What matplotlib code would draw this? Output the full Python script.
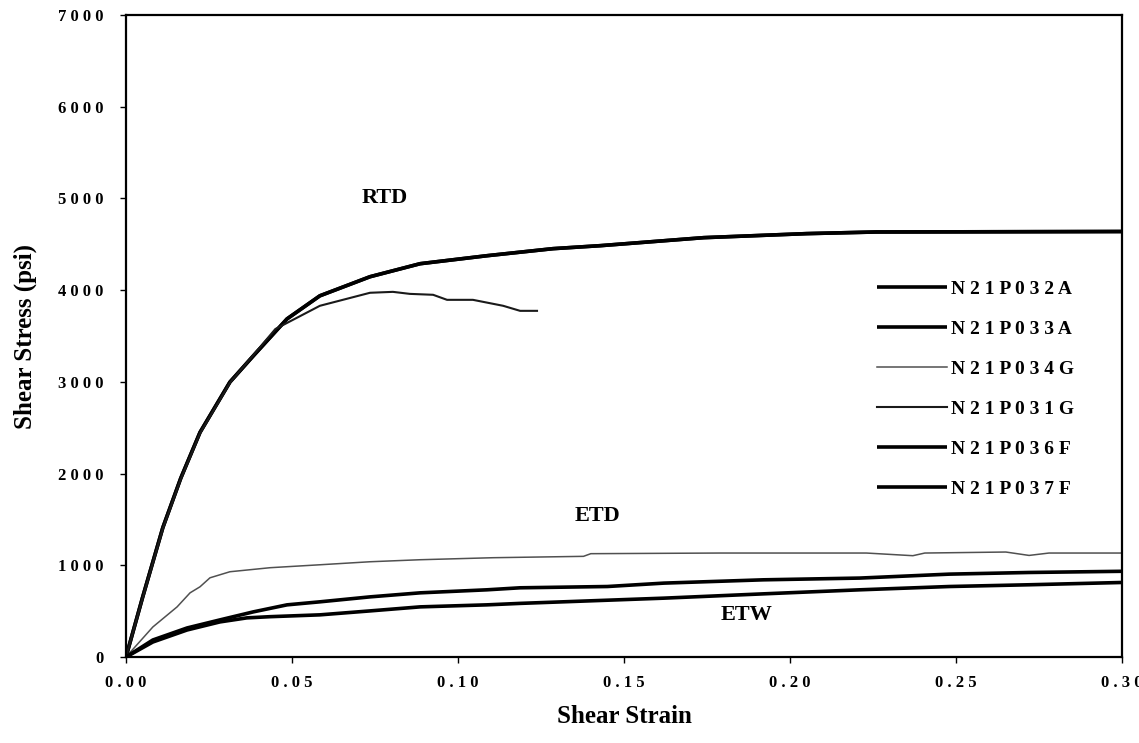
import matplotlib
matplotlib.use('Agg')
import matplotlib.pyplot as plt

# values
rtd_strain = [0, 0.005, 0.0111, 0.0165, 0.0223, 0.0313, 0.0383, 0.0485, 0.0584, 0.0735,
              0.0886, 0.1087, 0.1286, 0.143, 0.174, 0.205, 0.226, 0.30]
rtd_stress = [0, 650, 1411, 1950, 2450, 2998, 3282, 3687, 3939, 4147,
              4289, 4376, 4453, 4486, 4573, 4617, 4635, 4640]

drop_strain = [0, 0.005, 0.0111, 0.0165, 0.0223, 0.0313, 0.0383, 0.045, 0.0584, 0.0735,
               0.0804, 0.0855, 0.0925, 0.0967, 0.1045, 0.1136, 0.1187, 0.1238]
drop_stress = [0, 640, 1400, 1940, 2440, 2990, 3290, 3577, 3830, 3972,
               3982, 3960, 3950, 3895, 3895, 3830, 3775, 3775]

etd_strain = [0, 0.0081, 0.0154, 0.0193, 0.0223, 0.0253, 0.0313, 0.0434, 0.0584, 0.0735,
              0.0886, 0.1105, 0.1378, 0.140, 0.179, 0.223, 0.237, 0.2406, 0.265, 0.272,
              0.278, 0.30]
etd_stress = [0, 328, 547, 700, 766, 864, 930, 974, 1006, 1039,
              1061, 1083, 1098, 1127, 1134, 1134, 1105, 1134, 1145, 1108,
              1134, 1134]

mid_strain = [0, 0.0081, 0.0184, 0.0283, 0.0383, 0.0485, 0.0584, 0.0735, 0.0886, 0.1087,
              0.1187, 0.145, 0.162, 0.192, 0.221, 0.248, 0.272, 0.30]
mid_stress = [0, 186, 317, 405, 492, 569, 602, 656, 700, 733,
              755, 769, 806, 842, 861, 904, 922, 935]

low_strain = [0, 0.0081, 0.0184, 0.0283, 0.0364, 0.0434, 0.0584, 0.0735, 0.0886, 0.1087,
              0.1187, 0.162, 0.192, 0.221, 0.248, 0.272, 0.30]
low_stress = [0, 164, 295, 383, 427, 440, 460, 503, 547, 569,
              585, 642, 689, 733, 769, 788, 813]

x_ticks = [0.00, 0.05, 0.10, 0.15, 0.20, 0.25, 0.30]
y_ticks = [0, 1000, 2000, 3000, 4000, 5000, 6000, 7000]

def spaced(s):
    """Letter-spaced text like the scanned original."""
    return ' '.join(s)

plt.rcParams['font.family'] = 'Liberation Serif'
plt.rcParams['font.weight'] = 'bold'

fig = plt.figure(figsize=(11.39, 7.43), dpi=100)
ax = fig.add_axes([0.1106, 0.1157, 0.8745, 0.864])

thick = dict(color='black', lw=2.6, solid_capstyle='butt')
thin = dict(color='#505050', lw=1.1)

ax.plot(rtd_strain, rtd_stress, label=spaced('N21P032A'), **thick)
ax.plot(rtd_strain, rtd_stress, label=spaced('N21P033A'), **thick)
ax.plot(etd_strain, etd_stress, label=spaced('N21P034G'), **thin)
ax.plot(drop_strain, drop_stress, label=spaced('N21P031G'), color='#1a1a1a', lw=1.5)
ax.plot(mid_strain, mid_stress, label=spaced('N21P036F'), **thick)
ax.plot(low_strain, low_stress, label=spaced('N21P037F'), **thick)

ax.set_xlim(0, 0.30)
ax.set_ylim(0, 7000)
ax.set_xticks(x_ticks)
ax.set_yticks(y_ticks)
ax.set_xticklabels([spaced(f'{v:.2f}') for v in x_ticks], fontsize=12, fontweight='bold')
ax.set_yticklabels([spaced(str(v)) for v in y_ticks], fontsize=12, fontweight='bold')
ax.tick_params(axis='x', direction='out', length=4, width=1, pad=9)
ax.tick_params(axis='y', direction='out', length=4, width=1, pad=12)
for sp in ax.spines.values():
    sp.set_linewidth(1.6)

ax.set_xlabel('Shear Strain', fontsize=18, fontweight='bold', labelpad=10)
ax.set_ylabel('Shear Stress (psi)', fontsize=18, fontweight='bold', labelpad=15)

ax.text(0.078, 5000, 'RTD', fontsize=16, fontweight='bold', ha='center', va='center')
ax.text(0.142, 1540, 'ETD', fontsize=16, fontweight='bold', ha='center', va='center')
ax.text(0.187, 460, 'ETW', fontsize=16, fontweight='bold', ha='center', va='center')

leg = ax.legend(loc='upper left', bbox_to_anchor=(0.736, 0.614), frameon=False,
                fontsize=14, handlelength=3.6, handletextpad=0.25, labelspacing=1.15)
for t in leg.get_texts():
    t.set_fontweight('bold')

fig.savefig('out.png', dpi=100)
